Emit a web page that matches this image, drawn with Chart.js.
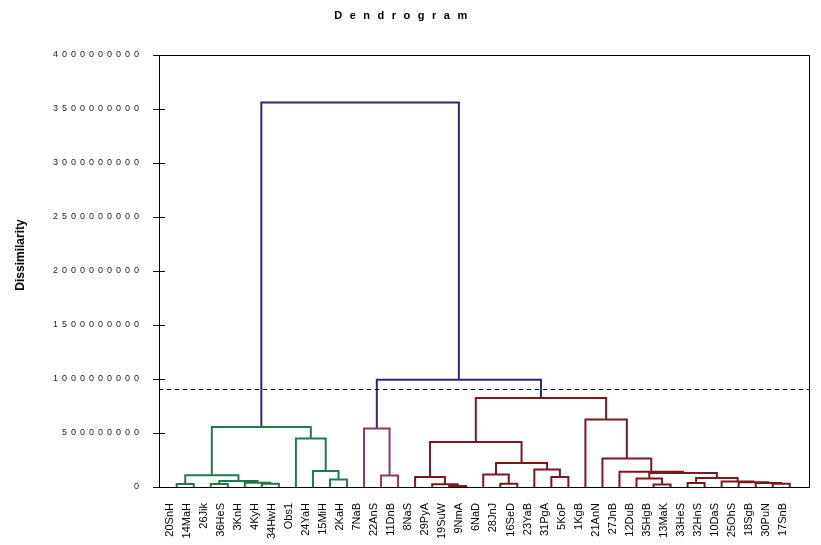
<!DOCTYPE html>
<html>
<head>
<meta charset="utf-8">
<script src="https://cdn.jsdelivr.net/npm/chart.js@4"></script>
<style>
  html, body { margin: 0; padding: 0; background: #fff; }
  #wrap { width: 821px; height: 545px; }
</style>
</head>
<body>
<div id="wrap"><canvas id="c" width="821" height="545"></canvas></div>
<script>
// ---- data ----
const leafLabels = ['20SnH','14MaH','26Jik','36HeS','3KnH','4KyH','34HwH','Obs1','24YaH','15MiH','2KaH',
  '7NaB','22AnS','11DnB','8NaS','29PyA','19SuW','9NmA','6NaD','28JnJ','16SeD','23YaB','31PgA','5KoP',
  '1KgB','21AnN','27JnB','12DuB','35HgB','13MaK','33HeS','32HnS','10DaS','25OhS','18SgB','30PuN','17SnB'];
// merges: ids < 37 are leaves, id 37+i is merge i
const mergeLeft  = [0,2,5,4,38,37,9,8,7,42,12,11,16,15,14,19,18,22,21,53,51,28,27,30,35,34,33,32,60,59,26,25,24,57,48,46];
const mergeRight = [1,3,6,39,40,41,10,43,44,45,13,47,17,49,50,20,52,23,54,55,56,29,58,31,36,61,62,63,64,65,66,67,68,69,70,71];
const mergeHeight = [28e6,28e6,31e6,40e6,56e6,108e6,69e6,148e6,448e6,556e6,106e6,541e6,9e6,25e6,93e6,31e6,115e6,
  93e6,161e6,222e6,417e6,23e6,78e6,38e6,31e6,38e6,45e6,52e6,83e6,130e6,141e6,263e6,624e6,824e6,994e6,3560e6];
const classRoots = [46, 48, 70];          // merges that form the three classes
const truncationLevel = 910000000;        // dotted cut line
const yTickValues = [0,500000000,1000000000,1500000000,2000000000,2500000000,3000000000,3500000000,4000000000];

// ---- styles ----
const classColors = ['#227A4C', '#8C3A6C', '#7C1820'];
const linkColor = '#2A2A78';
const FONT = "'Liberation Sans', Arial, sans-serif";

// ---- build dendrogram segments ----
const nLeaves = leafLabels.length;
const nodeX = [], nodeH = [];
for (let k = 0; k < nLeaves; k++) { nodeX[k] = k; nodeH[k] = 0; }
mergeLeft.forEach((l, i) => {
  const id = nLeaves + i;
  nodeX[id] = (nodeX[l] + nodeX[mergeRight[i]]) / 2;
  nodeH[id] = mergeHeight[i];
});
const nodeClass = new Array(nLeaves + mergeLeft.length).fill(-1);
classRoots.forEach((root, c) => {
  const stack = [root];
  while (stack.length) {
    const id = stack.pop();
    nodeClass[id] = c;
    if (id >= nLeaves) { stack.push(mergeLeft[id - nLeaves], mergeRight[id - nLeaves]); }
  }
});
const datasets = mergeLeft.map((l, i) => {
  const r = mergeRight[i], id = nLeaves + i;
  const c = nodeClass[id];
  return {
    data: [
      {x: nodeX[l], y: nodeH[l]},
      {x: nodeX[l], y: mergeHeight[i]},
      {x: nodeX[r], y: mergeHeight[i]},
      {x: nodeX[r], y: nodeH[r]}
    ],
    borderColor: c >= 0 ? classColors[c] : linkColor,
    borderWidth: 2,
    pointRadius: 0,
    tension: 0,
    fill: false
  };
});

// ---- plugins ----
const spacingPlugin = {
  id: 'spacing',
  beforeDraw(chart) {
    const wrap = (obj, method, spacing, dx, dy) => {
      if (!obj || obj['_wrapped_' + method]) return;
      const orig = obj[method];
      obj[method] = function (...args) {
        const ctx = chart.ctx;
        ctx.save();
        ctx.letterSpacing = spacing;
        if (dx || dy) ctx.translate(dx || 0, dy || 0);
        const res = orig.apply(this, args);
        ctx.restore();
        return res;
      };
      obj['_wrapped_' + method] = true;
    };
    wrap(chart.scales.y, 'drawLabels', '4px', 0, 0);
    wrap(chart.scales.y, 'drawTitle', '0px', 0, -16);
    wrap(chart.titleBlock, 'draw', '7.5px', 0, 0);
  }
};
const framePlugin = {
  id: 'frame',
  afterDatasetsDraw(chart) {
    const {ctx, chartArea: a, scales: {y}} = chart;
    ctx.save();
    ctx.strokeStyle = '#000';
    ctx.lineWidth = 1;
    ctx.setLineDash([4, 4]);
    const yy = Math.round(y.getPixelForValue(truncationLevel)) + 0.5;
    ctx.beginPath();
    ctx.moveTo(a.left, yy);
    ctx.lineTo(a.right, yy);
    ctx.stroke();
    ctx.restore();
  },
  afterDraw(chart) {
    const {ctx, chartArea: a, scales: {y}} = chart;
    ctx.save();
    ctx.strokeStyle = '#000';
    ctx.lineWidth = 1;
    ctx.strokeRect(a.left + 0.5, a.top + 0.5, a.right - a.left, a.bottom - a.top);
    ctx.beginPath();
    y.ticks.forEach(t => {
      const py = Math.round(y.getPixelForValue(t.value)) + 0.5;
      ctx.moveTo(a.left, py);
      ctx.lineTo(a.left + 6, py);
    });
    ctx.stroke();
    ctx.restore();
  }
};

new Chart(document.getElementById('c'), {
  type: 'line',
  data: { datasets },
  plugins: [spacingPlugin, framePlugin],
  options: {
    responsive: false,
    animation: false,
    devicePixelRatio: 1,
    layout: { padding: { left: 0, right: 12, top: 0, bottom: 0 } },
    plugins: {
      legend: { display: false },
      tooltip: { enabled: false },
      title: {
        display: true,
        text: 'Dendrogram',
        color: '#000',
        font: { family: FONT, size: 11, weight: 'bold', lineHeight: 1.2 },
        padding: { top: 9, bottom: 32.8 }
      }
    },
    scales: {
      x: {
        type: 'linear',
        min: -1.04,
        max: 37.13,
        grid: { display: false },
        border: { display: false },
        afterBuildTicks(scale) {
          scale.ticks = leafLabels.map((_, i) => ({ value: i - 0.4 }));
        },
        afterFit(scale) { scale.height = 58; },
        ticks: {
          autoSkip: false,
          minRotation: 90,
          maxRotation: 90,
          padding: 8,
          color: '#000',
          font: { family: FONT, size: 11 },
          callback: (v, i) => leafLabels[i]
        }
      },
      y: {
        type: 'linear',
        min: 0,
        max: 4000000000,
        afterBuildTicks(scale) {
          scale.ticks = yTickValues.map(v => ({ value: v }));
        },
        afterFit(scale) { scale.width = 159; },
        grid: { display: true, drawOnChartArea: false, drawTicks: true, tickLength: 6, color: '#000' },
        border: { display: false },
        ticks: {
          padding: 10,
          color: '#222',
          font: { family: FONT, size: 9 },
          callback: v => String(Math.round(v))
        },
        title: {
          display: true,
          text: 'Dissimilarity',
          color: '#000',
          font: { family: FONT, size: 12, weight: 'bold' },
          padding: { top: 13, bottom: 0 }
        }
      }
    }
  }
});
</script>
</body>
</html>
